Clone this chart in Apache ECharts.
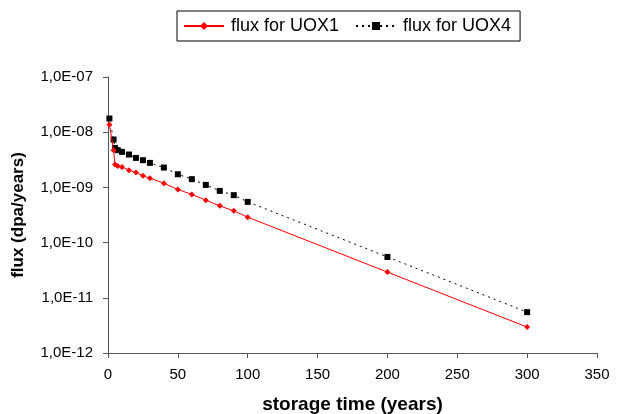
<!DOCTYPE html>
<html><head><meta charset="utf-8">
<script src="https://cdn.jsdelivr.net/npm/echarts@6/dist/echarts.min.js"></script>
<style>html,body{margin:0;padding:0;background:#fff}#c{width:622px;height:414px}</style>
</head><body><div id="c"></div>
<script>
const years = [1, 4, 5, 7, 10, 15, 20, 25, 30, 40, 50, 60, 70, 80, 90, 100, 200, 300];
const fluxUOX1 = [1.38e-8, 4.7e-9, 2.6e-9, 2.45e-9, 2.35e-9, 2.05e-9, 1.86e-9, 1.62e-9, 1.47e-9, 1.19e-9, 9.2e-10, 7.45e-10, 5.87e-10, 4.63e-10, 3.76e-10, 2.89e-10, 2.92e-11, 2.95e-12];
const fluxUOX4 = [1.77e-8, 7.36e-9, 5.19e-9, 4.72e-9, 4.4e-9, 3.94e-9, 3.42e-9, 3.11e-9, 2.78e-9, 2.29e-9, 1.73e-9, 1.41e-9, 1.11e-9, 8.65e-10, 7.23e-10, 5.47e-10, 5.5e-11, 5.5e-12];
const seriesNames = ['flux for UOX1', 'flux for UOX4'];
const xTitle = 'storage time (years)';
const yTitle = 'flux (dpa/years)';

const font = 'Liberation Sans, Arial, sans-serif';
const chart = echarts.init(document.getElementById('c'), null, {renderer: 'canvas'});
function fmtY(v) {
  const e = Math.round(Math.log10(v));
  return '1,0E' + (e < 0 ? '-' : '+') + String(Math.abs(e)).padStart(2, '0');
}
chart.setOption({
  animation: false,
  backgroundColor: '#fff',
  grid: {left: 108, right: 25, top: 77, bottom: 61, containLabel: false, outerBoundsMode: 'none'},
  legend: {
    top: 11, left: 177,
    itemWidth: 40, itemHeight: 10, itemGap: 16,
    padding: [6, 9, 6, 6],
    borderColor: '#000', borderWidth: 1, borderRadius: 0,
    textStyle: {fontFamily: font, fontSize: 18, color: '#000', padding: [0, 0, 0, 2]},
    data: seriesNames
  },
  xAxis: {
    type: 'value', min: 0, max: 350, interval: 50,
    name: xTitle, nameLocation: 'middle', nameGap: 42,
    nameTextStyle: {fontFamily: font, fontSize: 19, fontWeight: 'bold', color: '#000'},
    axisLine: {onZero: false, lineStyle: {color: '#555', width: 1}},
    axisTick: {show: true, length: 5, inside: false, lineStyle: {color: '#555'}},
    axisLabel: {fontFamily: font, fontSize: 15, color: '#000', margin: 14},
    splitLine: {show: false}
  },
  yAxis: {
    type: 'log', logBase: 10, min: 1e-12, max: 1e-7,
    name: yTitle, nameLocation: 'middle', nameGap: 81, nameRotate: 90,
    nameTextStyle: {fontFamily: font, fontSize: 17, fontWeight: 'bold', color: '#000'},
    axisLine: {show: true, lineStyle: {color: '#555', width: 1}},
    axisTick: {show: true, length: 5, lineStyle: {color: '#555'}},
    axisLabel: {fontFamily: font, fontSize: 15, color: '#000', margin: 15, formatter: fmtY},
    splitLine: {show: false},
    minorTick: {show: false}
  },
  series: [
    {
      name: seriesNames[0], type: 'line',
      data: years.map((x, i) => [x, fluxUOX1[i]]),
      symbol: 'diamond', symbolSize: 6, showSymbol: true,
      itemStyle: {color: '#ff0000'},
      lineStyle: {color: '#ff0000', width: 1},
      z: 3
    },
    {
      name: seriesNames[1], type: 'line',
      data: years.map((x, i) => [x, fluxUOX4[i]]),
      symbol: 'rect', symbolSize: 6, showSymbol: true,
      itemStyle: {color: '#000'},
      lineStyle: {color: '#000', width: 1, type: [2, 4]},
      z: 2
    }
  ]
});
</script></body></html>
